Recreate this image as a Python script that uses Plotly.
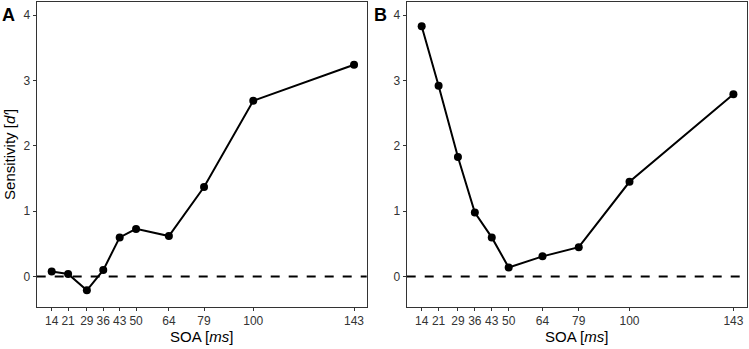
import plotly.graph_objects as go

soa = [14, 21, 29, 36, 43, 50, 64, 79, 100, 143]
tick_labels = ["14", "21", "29", "36", "43", "50", "64", "79", "100", "143"]
sens_a = [0.08, 0.04, -0.21, 0.10, 0.60, 0.73, 0.62, 1.37, 2.69, 3.24]
sens_b = [3.83, 2.92, 1.83, 0.98, 0.60, 0.14, 0.31, 0.45, 1.45, 2.79]

W, H = 749, 349
fig = go.Figure()
for vals, xa, ya in [(sens_a, "x", "y"), (sens_b, "x2", "y2")]:
    fig.add_trace(go.Scatter(x=soa, y=vals, xaxis=xa, yaxis=ya, mode="lines+markers",
                             line=dict(color="black", width=2),
                             marker=dict(color="black", size=8), showlegend=False))

for xr, yr in [("x", "y"), ("x2", "y2")]:
    fig.add_shape(type="line", xref=xr + " domain", yref=yr, x0=0, x1=1, y0=0, y1=0,
                  line=dict(color="black", width=2, dash="dash"), layer="below")

ydom = [1 - 306.7 / H, 1 - 2 / H]
FAM = "Liberation Sans, Arial, sans-serif"
font = dict(family=FAM, size=12, color="#333333")
axis_common = dict(showline=True, mirror=True, linecolor="#333333", linewidth=1.2,
                   ticks="outside", ticklen=3, tickwidth=1, tickcolor="#333333",
                   showgrid=False, zeroline=False, tickfont=font, automargin=False)

xtitle = dict(text="SOA [<i>ms</i>]", font=dict(family=FAM, size=15, color="black"), standoff=2)
fig.update_layout(
    width=W, height=H, margin=dict(l=0, r=0, t=0, b=0),
    plot_bgcolor="white", paper_bgcolor="white",
    xaxis=dict(domain=[36.7 / W, 366.7 / W], range=[7.6, 148.4], tickvals=soa, ticktext=tick_labels,
               title=xtitle, anchor="y", **axis_common),
    xaxis2=dict(domain=[406.7 / W, 746.7 / W], range=[7.8, 148.5], tickvals=soa, ticktext=tick_labels,
                title=xtitle, anchor="y2", **axis_common),
    yaxis=dict(domain=ydom, range=[-0.46, 4.2], tickvals=[0, 1, 2, 3, 4], anchor="x",
               title=dict(text="Sensitivity [<i>d′</i>]", font=dict(family=FAM, size=15, color="black"), standoff=4),
               **axis_common),
    yaxis2=dict(domain=ydom, range=[-0.46, 4.2], tickvals=[0, 1, 2, 3, 4], anchor="x2", **axis_common),
    annotations=[
        dict(text="<b>A</b>", x=0, y=15, xref="paper", yref="paper", showarrow=False,
             xanchor="left", yanchor="middle", font=dict(family=FAM, size=18, color="black")),
        dict(text="<b>B</b>", x=372, y=15, xref="paper", yref="paper", showarrow=False,
             xanchor="left", yanchor="middle", font=dict(family=FAM, size=18, color="black")),
    ],
)
# convert annotation pixel positions to paper coords
for a in fig.layout.annotations:
    a.x = a.x / W
    a.y = 1 - a.y / H
fig.write_html("out.html", config={"displayModeBar": False},
               post_script="document.body.style.margin='0px';")
